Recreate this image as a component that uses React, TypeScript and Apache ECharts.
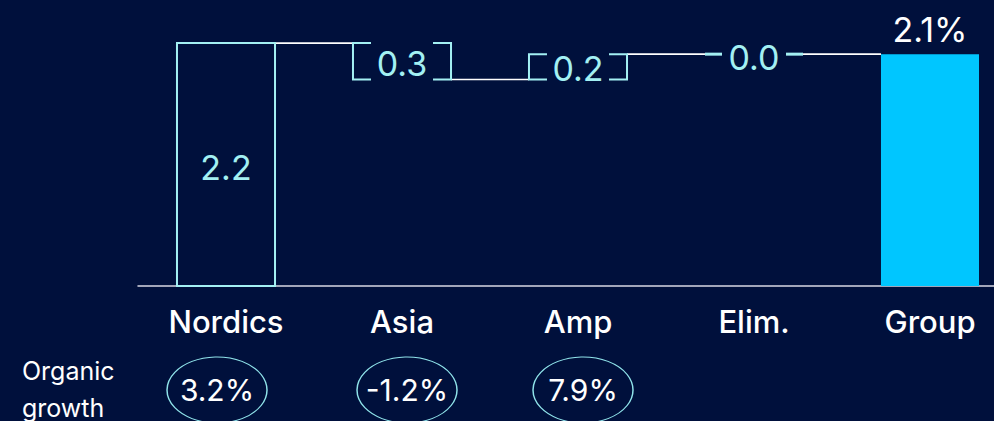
import React, { useEffect, useRef } from "react";
import * as echarts from "echarts";

const categories = ["Nordics", "Asia", "Amp", "Elim.", "Group"];
const deltas = [2.2, -0.33, 0.23, 0.0, 2.1];
const barKinds = ["box", "bracket", "bracket", "zero", "total"];
const valueLabels = ["2.2", "0.3", "0.2", "0.0", "2.1%"];
const growthValues = ["3.2%", "-1.2%", "7.9%"];
const rowTitle = ["Organic", "growth"];

const BG = "#00103C";
const CYAN = "#A3F0F3";
const TOTAL = "#00C6FF";
const FONT = "Inter, 'Noto Sans', sans-serif";
const ELLIPSE_SHIFT = [-9, 5, 5];

export default function App() {
  const ref = useRef<HTMLDivElement>(null);
  useEffect(() => {
    if (!ref.current) return;
    const chart = echarts.init(ref.current, undefined, { renderer: "svg" });

    let run = 0;
    const wfData = deltas.map((d, i) => {
      if (barKinds[i] === "total") return [i, 0, d];
      const s = run;
      run = run + d;
      return [i, s, run];
    });
    const n = categories.length;

    const renderItem = (params: any, api: any) => {
      const i = api.value(0);
      const s = api.value(1);
      const e = api.value(2);
      const kind = barKinds[i];
      const ps = api.coord([i, s]);
      const pe = api.coord([i, e]);
      const cx = ps[0];
      const band = api.size([1, 0])[0];
      const bw = band * 0.557;
      const left = cx - bw / 2;
      const right = cx + bw / 2;
      const top = Math.min(ps[1], pe[1]);
      const bottom = Math.max(ps[1], pe[1]);
      const stub = 18;
      const children: any[] = [];
      const textStyle = (text: string, x: number, y: number, fill: string, va = "middle") => ({
        type: "text",
        style: {
          text,
          x,
          y,
          align: "center",
          verticalAlign: va,
          fill,
          font: `400 34px ${FONT}`,
        },
      });
      if (i < n - 1) {
        const nx = api.coord([i + 1, e])[0];
        children.push({
          type: "line",
          shape: { x1: right, y1: pe[1], x2: nx - bw / 2, y2: pe[1] },
          style: { stroke: "#FFFFFF", lineWidth: 1.6 },
        });
      }
      if (kind === "box") {
        children.push({
          type: "rect",
          shape: { x: left, y: top, width: bw, height: bottom - top },
          style: { fill: "none", stroke: CYAN, lineWidth: 2 },
        });
        children.push(textStyle(valueLabels[i], cx, (top + bottom) / 2 + 3, CYAN));
      } else if (kind === "bracket") {
        children.push({
          type: "polyline",
          shape: { points: [[left + stub, top], [left, top], [left, bottom], [left + stub, bottom]] },
          style: { fill: "none", stroke: CYAN, lineWidth: 2 },
        });
        children.push({
          type: "polyline",
          shape: { points: [[right - stub, top], [right, top], [right, bottom], [right - stub, bottom]] },
          style: { fill: "none", stroke: CYAN, lineWidth: 2 },
        });
        children.push(textStyle(valueLabels[i], cx, (top + bottom) / 2 + 2, CYAN));
      } else if (kind === "zero") {
        children.push({
          type: "line",
          shape: { x1: left, y1: pe[1], x2: left + 17, y2: pe[1] },
          style: { stroke: CYAN, lineWidth: 3 },
        });
        children.push({
          type: "line",
          shape: { x1: right - 17, y1: pe[1], x2: right, y2: pe[1] },
          style: { stroke: CYAN, lineWidth: 3 },
        });
        children.push(textStyle(valueLabels[i], cx, pe[1] + 3, CYAN));
      } else {
        children.push({
          type: "rect",
          shape: { x: left, y: top, width: bw, height: bottom - top },
          style: { fill: TOTAL },
        });
        children.push(textStyle(valueLabels[i], cx, top - 8, "#FFFFFF", "bottom"));
      }
      return { type: "group", children };
    };

    chart.setOption({
      animation: false,
      backgroundColor: BG,
      grid: [
        { left: 138, width: 880, top: 10, height: 276, outerBoundsMode: "none", containLabel: false },
        { left: 138, width: 880, top: 357, height: 66, outerBoundsMode: "none", containLabel: false },
      ],
      xAxis: [
        {
          type: "category",
          gridIndex: 0,
          data: categories,
          axisLine: { lineStyle: { color: "#D8D8E4", width: 1.5 } },
          axisTick: { show: false },
          axisLabel: {
            color: "#FFFFFF",
            fontFamily: FONT,
            fontSize: 31,
            fontWeight: 500,
            lineHeight: 32,
            margin: 19,
          },
        },
        {
          type: "category",
          gridIndex: 1,
          data: categories,
          show: false,
        },
      ],
      yAxis: [
        { type: "value", gridIndex: 0, min: 0, max: 2.5, show: false, splitLine: { show: false } },
        { type: "value", gridIndex: 1, min: 0, max: 1, show: false, splitLine: { show: false } },
      ],
      graphic: [
        {
          type: "text",
          left: 22,
          top: 352,
          style: {
            text: rowTitle.join("\n"),
            fill: "#FFFFFF",
            font: `400 25px ${FONT}`,
            lineHeight: 37,
            align: "center",
            width: 97,
          },
        },
      ],
      series: [
        {
          type: "custom",
          xAxisIndex: 0,
          yAxisIndex: 0,
          renderItem,
          encode: { x: 0, y: [1, 2] },
          data: wfData,
          clip: false,
        },
        {
          type: "scatter",
          xAxisIndex: 1,
          yAxisIndex: 1,
          symbol: "circle",
          symbolSize: [100, 66],
          clip: false,
          itemStyle: { color: "rgba(0,0,0,0)", borderColor: "#8FE3EA", borderWidth: 1.2, opacity: 1 },
          label: {
            show: true,
            position: "inside",
            formatter: (p: any) => growthValues[p.dataIndex],
            color: "#FFFFFF",
            fontFamily: FONT,
            fontSize: 30,
            fontWeight: 400,
          },
          data: growthValues.map((_, i) => ({
            value: [i, 0.5],
            symbolOffset: [ELLIPSE_SHIFT[i], 0],
          })),
        },
      ],
    });
    return () => chart.dispose();
  }, []);
  return (
    <div
      ref={ref}
      style={{ position: "fixed", left: 0, top: 0, width: 994, height: 421 }}
    />
  );
}
